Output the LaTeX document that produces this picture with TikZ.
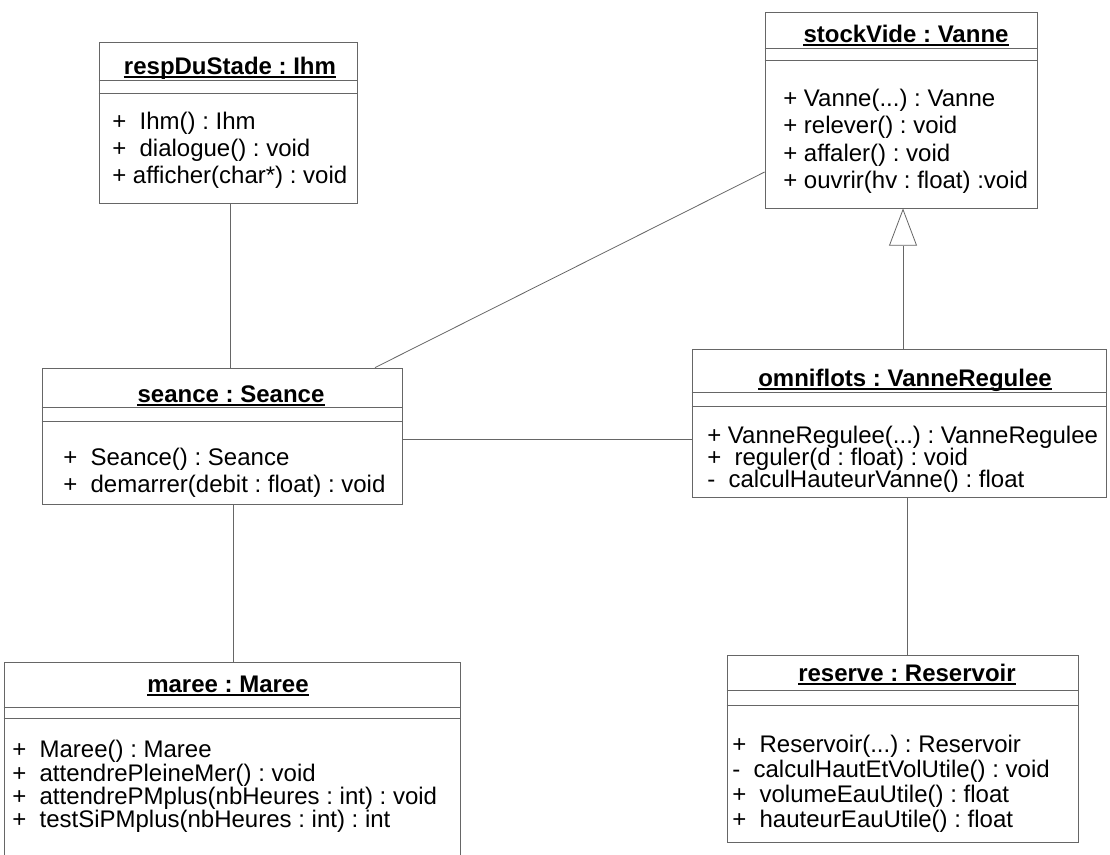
\documentclass[tikz,border=0pt]{standalone}
\usepackage{fontspec}
\setmainfont{Liberation Sans}
\usetikzlibrary{fit,calc,arrows.meta}
\frenchspacing
\tikzset{
  frame/.style={draw=black!60, line width=0.6pt},
  objbox/.style={frame, inner sep=0pt, fit={#1}},
  objtitle/.style={font=\fontsize{18}{22}\selectfont\bfseries, inner sep=0pt, anchor=base},
  opline/.style={font=\fontsize{18}{22}\selectfont, inner sep=0pt, anchor=base west},
  uline/.style={draw=black, line width=1pt},
  link/.style={draw=black!60, line width=0.6pt},
  generalization/.style={link, -{Triangle[open, length=28pt, width=21pt]}},
}
% compartment separator across a box at a given height
\newcommand\compline[2]{\draw[frame] (#1.west |- 0,#2) -- (#1.east |- 0,#2);}
% underline of an object name
\newcommand\nameline[1]{\draw[uline] ($(#1.base west)+(0,3)$) -- ($(#1.base east)+(0,3)$);}
\begin{document}
\begin{tikzpicture}[x=0.75pt, y=-0.75pt]
\useasboundingbox (0,0) rectangle (1110,854);

% respDuStade : Ihm
\node[objbox={(99,42) (357,203)}] (resp) {};
\node[objtitle] (respT) at (230,74) {respDuStade : Ihm};
\nameline{respT}
\compline{resp}{80}
\compline{resp}{93}
\node[opline] (respA) at (112,129) {+~~Ihm() : Ihm};
\node[opline] (respB) at (112,156) {+~~dialogue() : void};
\node[opline] (respC) at (112,183) {+ afficher(char*) : void};

% stockVide : Vanne
\node[objbox={(765,12) (1037,208)}] (stock) {};
\node[objtitle] (stockT) at (906,42) {stockVide : Vanne};
\nameline{stockT}
\compline{stock}{48}
\compline{stock}{60}
\node[opline] (stockA) at (783,106) {+~Vanne(...) : Vanne};
\node[opline] (stockB) at (783,133) {+~relever() : void};
\node[opline] (stockC) at (783,161) {+~affaler() : void};
\node[opline] (stockD) at (783,188) {+~ouvrir(hv : float) :void};

% seance : Seance
\node[objbox={(42,368) (402,504)}] (seance) {};
\node[objtitle] (seanceT) at (231,402) {seance : Seance};
\nameline{seanceT}
\compline{seance}{407}
\compline{seance}{421}
\node[opline] (seanceA) at (63,465) {+~~Seance() : Seance};
\node[opline] (seanceB) at (63,492) {+~~demarrer(debit : float) : void};

% omniflots : VanneRegulee
\node[objbox={(692,349) (1106,497)}] (omni) {};
\node[objtitle] (omniT) at (905,386) {omniflots : VanneRegulee};
\nameline{omniT}
\compline{omni}{392}
\compline{omni}{406}
\node[opline] (omniA) at (707,443) {+ VanneRegulee(...) : VanneRegulee};
\node[opline] (omniB) at (707,465) {+~~reguler(d : float) : void};
\node[opline] (omniC) at (707,487) {-~~calculHauteurVanne() : float};

% reserve : Reservoir
\node[objbox={(727,655) (1078,842)}] (reserve) {};
\node[objtitle] (reserveT) at (907,681) {reserve : Reservoir};
\nameline{reserveT}
\compline{reserve}{690}
\compline{reserve}{705}
\node[opline] (reserveA) at (732,752) {+~~Reservoir(...) : Reservoir};
\node[opline] (reserveB) at (732,777) {-~~calculHautEtVolUtile() : void};
\node[opline] (reserveC) at (732,802) {+~~volumeEauUtile() : float};
\node[opline] (reserveD) at (732,827) {+~~hauteurEauUtile() : float};

% maree : Maree (runs past the lower edge)
\node[objbox={(4,662) (460,870)}] (maree) {};
\node[objtitle] (mareeT) at (228,692) {maree : Maree};
\nameline{mareeT}
\compline{maree}{707}
\compline{maree}{718}
\node[opline] (mareeA) at (12,757) {+~~Maree() : Maree};
\node[opline] (mareeB) at (12,781) {+~~attendrePleineMer() : void};
\node[opline] (mareeC) at (12,804) {+~~attendrePMplus(nbHeures : int) : void};
\node[opline] (mareeD) at (12,827) {+~~testSiPMplus(nbHeures : int) : int};

% links between the objects
\draw[link] (resp.south -| 230,0) -- (seance.north -| 230,0);
\draw[link] (seance.south -| 233,0) -- (maree.north -| 233,0);
\draw[link] (seance.north -| 375,0) -- (stock.west |- 0,172);
\draw[link] (seance.east |- 0,439) -- (omni.west |- 0,439);
\draw[link] (omni.south -| 907,0) -- (reserve.north -| 907,0);
\draw[generalization] (omni.north -| 903,0) -- (stock.south -| 903,0);
\end{tikzpicture}
\end{document}
